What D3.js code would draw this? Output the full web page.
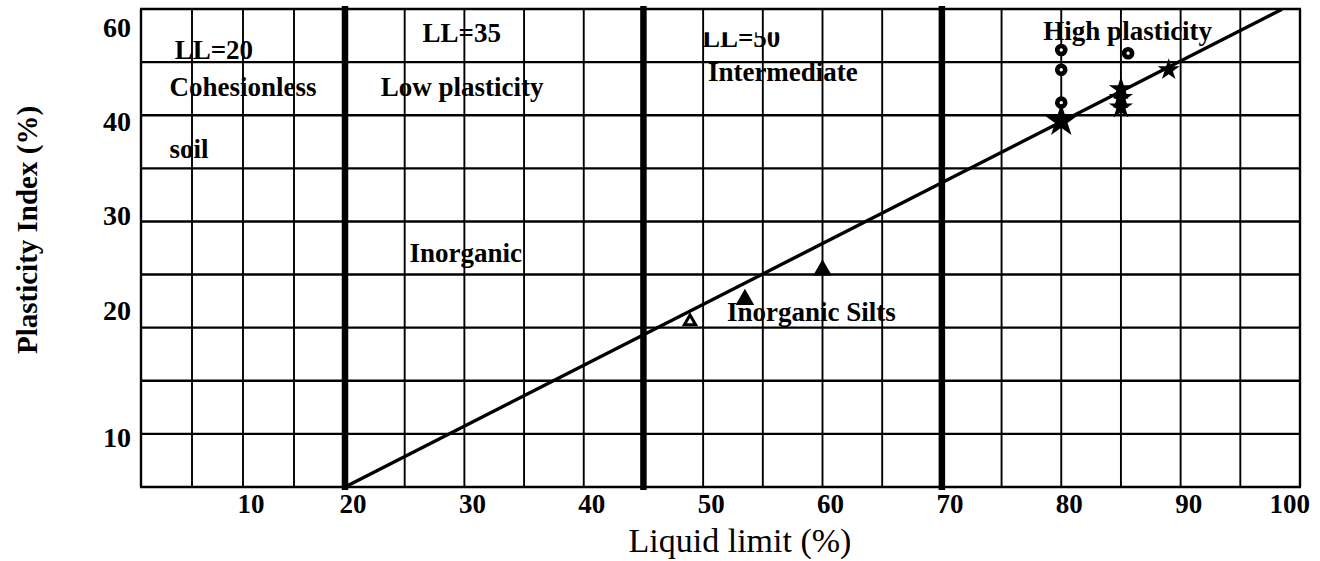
<!DOCTYPE html>
<html>
<head>
<meta charset="utf-8">
<script src="https://cdnjs.cloudflare.com/ajax/libs/d3/7.8.5/d3.min.js"></script>
<style>
    body { margin: 0; background: #fff; }
    text { font-family: "Liberation Serif", "Times New Roman", serif; fill: #000; }
    .lbl { font-weight: bold; font-size: 27px; }
</style>
</head>
<body>
<div id="chart"></div>
<script>
// liquid limit (x) and plasticity index (y) tick labels
var xTicks = [10, 20, 30, 40, 50, 60, 70, 80, 90, 100];
var yTicks = [10, 20, 30, 40, 60];

// thick zone boundaries, in liquid limit units
var zoneLimits = [20, 45, 70];

// A-line end points [LL, PI]
var aLine = [[20, 0], [98.5, 63.8]];

// samples [LL, PI]
var triangles = [[48.9, 19.1], [53.5, 21.1], [60, 24.2]];
var circles = [[80, 55.1], [80, 50.9], [80, 43.9], [85.6, 54.4]];
var stars = [[80, 40], [85, 46.8], [85, 44.9], [85, 42.9], [89, 50.9]];

// zone text [text, LL, PI]
var notes = [
    ["LL=20", 3.3, 53.2],
    ["Cohesionless", 2.8, 45.3],
    ["soil", 2.8, 36.1],
    ["LL=35", 26.5, 56.8],
    ["Low plasticity", 23, 45.3],
    ["Inorganic", 25.4, 25.1],
    ["LL=50", 49.9, 55.7],
    ["Intermediate", 50.4, 48.5],
    ["High plasticity", 78.5, 57.2],
    ["Inorganic Silts", 52, 19.1]
];

var width = 1320, height = 561;

var svg = d3.select("#chart").append("svg")
    .attr("width", width)
    .attr("height", height);

// the sheet is a hand ruled table: first four columns are narrower
var x = d3.scaleLinear().domain([0, 20, 100]).range([141, 345, 1300]);
// value labels on the left are not evenly spaced either
var y = d3.scaleLinear().domain([0, 10, 20, 30, 40, 60]).range([487, 437, 310, 215, 121, 27]);
var rows = d3.scaleLinear().domain([0, 9]).range([487, 9]);

var grid = svg.append("g").attr("stroke", "#000");

grid.selectAll(".vline")
    .data(d3.range(0, 101, 5)).enter().append("line")
    .attr("class", "vline")
    .attr("x1", function(d) { return x(d); })
    .attr("x2", function(d) { return x(d); })
    .attr("y1", rows(9))
    .attr("y2", rows(0))
    .attr("stroke-width", function(d) { return (d === 0 || d === 100) ? 2.4 : 1.9; });

grid.selectAll(".hline")
    .data(d3.range(0, 10)).enter().append("line")
    .attr("class", "hline")
    .attr("x1", x(0) - 1)
    .attr("x2", x(100) + 1)
    .attr("y1", function(d) { return rows(d); })
    .attr("y2", function(d) { return rows(d); })
    .attr("stroke-width", 2.4);

grid.selectAll(".zone")
    .data(zoneLimits).enter().append("line")
    .attr("class", "zone")
    .attr("x1", function(d) { return x(d); })
    .attr("x2", function(d) { return x(d); })
    .attr("y1", rows(9) - 3)
    .attr("y2", rows(0) + 3)
    .attr("stroke-width", 6.5);

// zone text
var clip = svg.append("clipPath").attr("id", "cut");
clip.append("rect")
    .attr("x", 0).attr("width", width)
    .attr("y", y(55.7) - 15).attr("height", 40);

svg.selectAll(".note")
    .data(notes).enter().append("text")
    .attr("class", "lbl note")
    .attr("x", function(d) { return x(d[1]); })
    .attr("y", function(d) { return y(d[2]); })
    .attr("clip-path", function(d) { return d[0] === "LL=50" ? "url(#cut)" : null; })
    .text(function(d) { return d[0]; });

svg.append("path")
    .datum(aLine)
    .attr("fill", "none")
    .attr("stroke", "#000")
    .attr("stroke-width", 3.4)
    .attr("d", d3.line()
        .x(function(d) { return x(d[0]); })
        .y(function(d) { return y(d[1]); }));

// axis labels
svg.selectAll(".xtick")
    .data(xTicks).enter().append("text")
    .attr("class", "lbl xtick")
    .attr("x", function(d) { return d === 100 ? x(d) + 10 : x(d) + 8; })
    .attr("y", rows(0) + 26)
    .attr("text-anchor", function(d) { return d === 100 ? "end" : "middle"; })
    .text(function(d) { return d; });

svg.selectAll(".ytick")
    .data(yTicks).enter().append("text")
    .attr("class", "lbl ytick")
    .attr("x", x(0) - 10)
    .attr("y", function(d) { return y(d); })
    .attr("dy", "0.35em")
    .attr("text-anchor", "end")
    .style("font-size", "28px")
    .text(function(d) { return d; });

svg.append("text")
    .attr("class", "lbl")
    .attr("transform", "translate(37," + ((rows(0) + rows(9)) / 2 - 18) + ") rotate(-90)")
    .attr("text-anchor", "middle")
    .style("font-size", "29px")
    .text("Plasticity Index (%)");

svg.append("text")
    .attr("x", 740)
    .attr("y", height - 9)
    .attr("text-anchor", "middle")
    .style("font-size", "34px")
    .text("Liquid limit (%)");

// samples
svg.selectAll(".tri")
    .data(triangles).enter().append("path")
    .attr("class", "tri")
    .attr("transform", function(d) { return "translate(" + x(d[0]) + "," + y(d[1]) + ")"; })
    .attr("d", function(d, i) { return d3.symbol(d3.symbolTriangle, i === 0 ? 55 : 150)(); })
    .attr("fill", function(d, i) { return i === 0 ? "#fff" : "#000"; })
    .attr("stroke", "#000")
    .attr("stroke-width", function(d, i) { return i === 0 ? 3 : 0; });

svg.selectAll(".dot")
    .data(circles).enter().append("circle")
    .attr("class", "dot")
    .attr("cx", function(d) { return x(d[0]); })
    .attr("cy", function(d) { return y(d[1]); })
    .attr("r", 4)
    .attr("fill", "#fff")
    .attr("stroke", "#000")
    .attr("stroke-width", 4.6);

svg.selectAll(".star")
    .data(stars).enter().append("path")
    .attr("class", "star")
    .attr("transform", function(d) { return "translate(" + x(d[0]) + "," + y(d[1]) + ")"; })
    .attr("d", function(d, i) { return d3.symbol(d3.symbolStar, i === 0 ? 340 : (i === 4 ? 150 : 180))(); })
    .attr("fill", "#000");
</script>
</body>
</html>
